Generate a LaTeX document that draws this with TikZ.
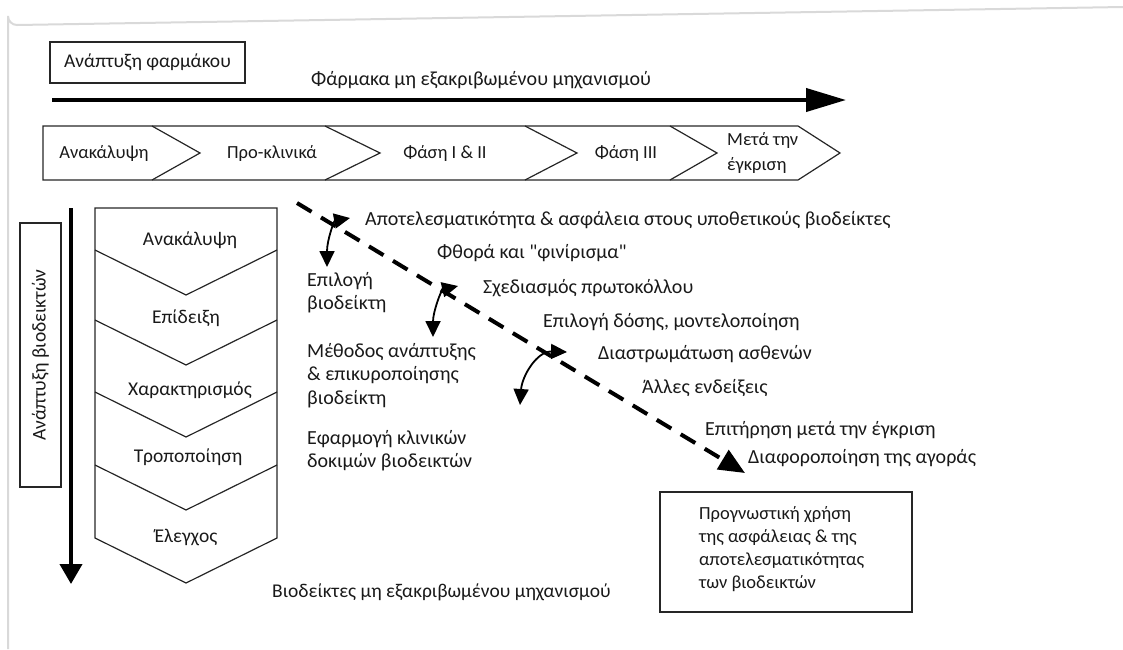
\documentclass[tikz,border=0pt]{standalone}
\usepackage{fontspec}
\setmainfont{Carlito}[Ligatures=TeXOff]
\usetikzlibrary{arrows.meta}
\begin{document}
\begin{tikzpicture}[x=1pt,y=-1pt,
  txt/.style={inner sep=0pt, font=\fontsize{20}{23.5}\selectfont, text=black!90},
  htxt/.style={txt, font=\fontsize{18.5}{25}\selectfont},
  vtxt/.style={txt, font=\fontsize{19.5}{23}\selectfont},
  lt/.style={txt, anchor=west},
  mlt/.style={txt, anchor=north west, align=left},
  outl/.style={draw=black!85, line width=1.2pt, line join=miter},
  bigarrow/.style={line width=4pt, -{Triangle[length=40pt,width=23pt]}},
  dasharrow/.style={line width=4pt, dash pattern=on 17pt off 11pt, -{Triangle[length=26pt,width=22pt]}},
  bendarrow/.style={line width=1.8pt, {Triangle[length=16pt,width=15pt]}-{Triangle[length=16pt,width=15pt]}},
  boxed/.style={draw=black!85, line width=1.2pt}
]
\useasboundingbox (0,0) rectangle (1123,649);
% frame
\draw[gray!30, line width=2pt] (8,649) -- (8,16) arc[start angle=180, end angle=90, radius=9] -- (1123,7);

% top box
\node[boxed, minimum width=195pt, minimum height=41pt, txt, font=\fontsize{19.5}{23}\selectfont] (drug) at (147.5,62.5) {Ανάπτυξη φαρμάκου};
\node[lt] (unk) at (311,80) {Φάρμακα μη εξακριβωμένου μηχανισμού};
\coordinate (ha0) at (52,100);
\coordinate (ha1) at (846,100);
\draw[bigarrow] (ha0) -- (ha1);

% horizontal chevrons
\draw[outl] (43,126) -- (798,126) -- (840,153) -- (798,180) -- (43,180) -- cycle;
\draw[outl] (152,126) -- (200,153) -- (152,180);
\draw[outl] (325,126) -- (380,153) -- (325,180);
\draw[outl] (525,126) -- (577,153) -- (525,180);
\draw[outl] (670,126) -- (717,153) -- (670,180);
\node[htxt] (h1) at (104,153) {Ανακάλυψη};
\node[htxt] (h2) at (272,153) {Προ-κλινικά};
\node[htxt] (h3) at (445,153) {Φάση I \& II};
\node[htxt] (h4) at (626,153) {Φάση III};
\node[htxt, anchor=north west, align=left] (h5) at (727,132) {Μετά την\\έγκριση};

% vertical arrow and box
\coordinate (va0) at (71,208);
\coordinate (va1) at (71,584);
\draw[bigarrow, -{Triangle[length=20pt,width=22pt]}] (va0) -- (va1);
\node[boxed, minimum width=41pt, minimum height=264pt] (bbox) at (40.5,355) {};
\node[vtxt, rotate=90] (btxt) at (bbox.center) {Ανάπτυξη βιοδεικτών};

% vertical chevrons
\draw[outl] (95,208) -- (277,208) -- (277,538) -- (186,583) -- (95,538) -- cycle;
\draw[outl] (95,250) -- (186,295) -- (277,250);
\draw[outl] (95,320) -- (186,365) -- (277,320);
\draw[outl] (95,392) -- (186,437) -- (277,392);
\draw[outl] (95,465) -- (186,510) -- (277,465);
\node[vtxt] (v1) at (190,240) {Ανακάλυψη};
\node[vtxt] (v2) at (186,318) {Επίδειξη};
\node[vtxt] (v3) at (190,390) {Χαρακτηρισμός};
\node[vtxt] (v4) at (188,457) {Τροποποίηση};
\node[vtxt] (v5) at (186,537) {Έλεγχος};

% dashed arrow
\coordinate (d0) at (297,203);
\coordinate (d1) at (745,473);
\draw[dasharrow] (d0) -- (d1);

% right texts
\node[lt] (r1) at (365,220) {Αποτελεσματικότητα \& ασφάλεια στους υποθετικούς βιοδείκτες};
\node[lt] (r2) at (437,253) {Φθορά και "φινίρισμα"};
\node[lt] (r3) at (483,288) {Σχεδιασμός πρωτοκόλλου};
\node[lt] (r4) at (543,322) {Επιλογή δόσης, μοντελοποίηση};
\node[lt] (r5) at (598,354) {Διαστρωμάτωση ασθενών};
\node[lt] (r6) at (642,388) {Άλλες ενδείξεις};
\node[lt] (r7) at (705,430) {Επιτήρηση μετά την έγκριση};
\node[lt] (r8) at (748,458) {Διαφοροποίηση της αγοράς};

% left texts
\node[mlt] (l1) at (307,272) {Επιλογή\\βιοδείκτη};
\node[mlt] (l2) at (307,343) {Μέθοδος ανάπτυξης\\\& επικυροποίησης\\βιοδείκτη};
\node[mlt] (l3) at (307,430) {Εφαρμογή κλινικών\\δοκιμών βιοδεικτών};
\node[lt, font=\fontsize{19.5}{23}\selectfont] (bot) at (272,592) {Βιοδείκτες μη εξακριβωμένου μηχανισμού};

% curved arrows
\coordinate (c1a) at (350,218); \coordinate (c1b) at (327,267);
\coordinate (c2a) at (458,286); \coordinate (c2b) at (433,337);
\coordinate (c3a) at (567,352); \coordinate (c3b) at (520,405);
\draw[bendarrow] (c1a) .. controls (334,221) and (327,240) .. (c1b);
\draw[bendarrow] (c2a) .. controls (441,290) and (433,312) .. (c2b);
\draw[bendarrow] (c3a) .. controls (537,351) and (522,376) .. (c3b);

% result box
\node[boxed, minimum width=252pt, minimum height=120pt] (res) at (786,552) {};
\node[mlt, font=\fontsize{18.5}{23}\selectfont] (restxt) at (699,506) {Προγνωστική χρήση\\της ασφάλειας \& της\\αποτελεσματικότητας\\των βιοδεικτών};
\end{tikzpicture}
\end{document}
